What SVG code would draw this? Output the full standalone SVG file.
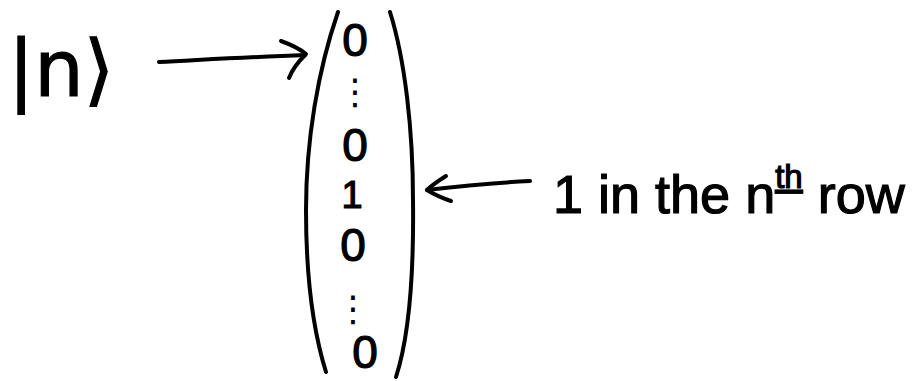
<svg xmlns="http://www.w3.org/2000/svg" width="913" height="381" viewBox="0 0 913 381">
<style>
.ink{fill:none;stroke:#000;stroke-width:4;stroke-linecap:round;stroke-linejoin:round}
.t{font-family:"Liberation Sans","DejaVu Sans",sans-serif;fill:#000;stroke:#000;stroke-width:1.2}
.d{font-family:"DejaVu Sans",sans-serif;fill:#000}
.z{font-size:46px}
</style>
<rect width="913" height="381" fill="#fff"/>
<g id="ket">
<text class="t" x="8" y="96" style="font-family:'DejaVu Sans',sans-serif" font-size="78">|n⟩</text>
</g>
<g id="vector">
<path class="ink" d="M338,12 C318,70 306,140 306,210 C306,290 316,340 326,372"/>
<path class="ink" d="M390,12 C405,60 413,130 413,200 C414,280 408,340 396,377"/>
<text class="t z" x="355" y="56" text-anchor="middle">0</text>
<text class="d" x="355" y="104" font-size="36" text-anchor="middle">⋮</text>
<text class="t z" x="355" y="161" text-anchor="middle">0</text>
<text class="t" x="352" y="208" font-size="38" text-anchor="middle">1</text>
<text class="t z" x="353" y="261" text-anchor="middle">0</text>
<text class="d" x="353" y="321" font-size="36" text-anchor="middle">⋮</text>
<text class="t z" x="365" y="368" text-anchor="middle">0</text>
</g>
<g id="label">
<text class="t" x="553" y="213" font-size="54">1 in the n<tspan font-size="33" dy="-25" text-decoration="underline">th</tspan><tspan dy="25"> row</tspan></text>
</g>
<g id="connectors">
<path class="ink" d="M159,62 C200,60 250,57 305,55"/>
<path class="ink" d="M281,41 C292,45 300,49 306,54 C298,62 292,70 289,78"/>
<path class="ink" d="M530,181 C490,183 460,186 427,190"/>
<path class="ink" d="M446,176 C438,181 431,186 427,190 C435,195 442,198 451,201"/>
</g>
</svg>
